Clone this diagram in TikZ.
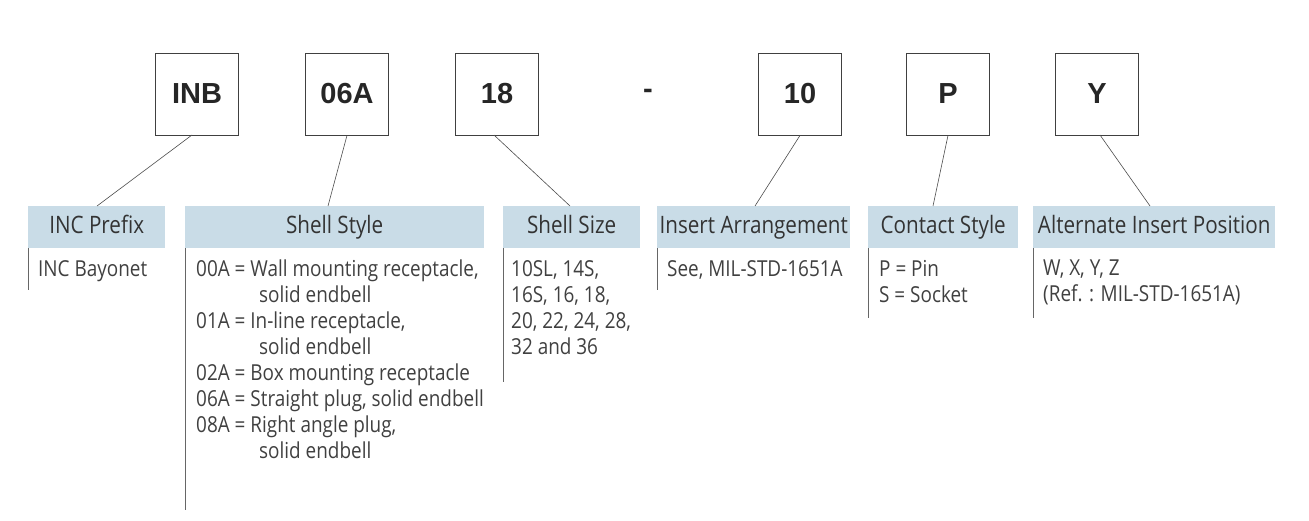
\documentclass[tikz,border=0pt]{standalone}
\usepackage{fontspec}
\setmainfont{Open Sans}[FakeStretch=0.86]
\newfontfamily\boxfont{Liberation Sans}
\begin{document}
\begin{tikzpicture}[x=1pt,y=-1pt,
  codebox/.style={draw=black!75,line width=0.8pt,minimum width=83pt,minimum height=82pt,font=\boxfont\bfseries\fontsize{29}{32}\selectfont,text=black!85},
  hdr/.style={fill=hdrblue,anchor=north west,minimum height=42pt,inner sep=0pt,text height=18pt,text depth=5pt,font=\fontsize{24}{26}\selectfont,text=black!80},
  body/.style={anchor=north west,align=left,inner sep=0pt,font=\fontsize{22}{26}\selectfont,text=black!75},
  conn/.style={draw=black!70,line width=0.6pt},
  vline/.style={draw=black!60,line width=0.6pt}]
\definecolor{hdrblue}{HTML}{C9DCE7}
\useasboundingbox (0,0) rectangle (1309,521);
\node[codebox] (b1) at (197,94) {INB};
\node[codebox] (b2) at (347,94) {06A};
\node[codebox] (b3) at (497,94) {18};
\node[font=\boxfont\bfseries\fontsize{29}{32}\selectfont,text=black!85] (dash) at (648,94) {-};
\node[codebox] (b4) at (800,94) {10};
\node[codebox] (b5) at (948,94) {P};
\node[codebox] (b6) at (1097,94) {Y};
\node[hdr,minimum width=137pt] (h1) at (28,206) {INC Prefix};
\node[hdr,minimum width=299pt] (h2) at (185,206) {Shell Style};
\node[hdr,minimum width=137pt] (h3) at (503,206) {Shell Size};
\node[hdr,minimum width=193pt] (h4) at (657,206) {Insert Arrangement};
\node[hdr,minimum width=150pt] (h5) at (868,206) {Contact Style};
\node[hdr,minimum width=242pt] (h6) at (1033,206) {Alternate Insert Position};
\coordinate (t1) at (97,206); \coordinate (t2) at (328,206);
\coordinate (t3) at (570,206); \coordinate (t4) at (755,206);
\coordinate (t5) at (933,206); \coordinate (t6) at (1150,206);
\draw[conn] (192,135) -- (t1);
\draw[conn] (b2.south) -- (t2);
\draw[conn] (494,135) -- (t3);
\draw[conn] (b4.south) -- (t4);
\draw[conn] (b5.south) -- (t5);
\draw[conn] (1100,135) -- (t6);
\draw[vline] (h1.south west) -- ++(0,42);
\draw[vline] (h2.south west) -- ++(0,262);
\draw[vline] (h3.south west) -- ++(0,134);
\draw[vline] (h4.south west) -- ++(0,42);
\draw[vline] (h5.south west) -- ++(0,70);
\draw[vline] (h6.south west) -- ++(0,70);
\node[body] (c1) at (38,260) {INC Bayonet};
\node[body] (c2) at (196,260) {00A = Wall mounting receptacle,\\\hspace*{63pt}solid endbell\\01A = In-line receptacle,\\\hspace*{63pt}solid endbell\\02A = Box mounting receptacle\\06A = Straight plug, solid endbell\\08A = Right angle plug,\\\hspace*{63pt}solid endbell};
\node[body] (c3) at (511,260) {10SL, 14S,\\16S, 16, 18,\\20, 22, 24, 28,\\32 and 36};
\node[body] (c4) at (667,260) {See, MIL-STD-1651A};
\node[body] (c5) at (879,260) {P = Pin\\S = Socket};
\node[body] (c6) at (1043,260) {W, X, Y, Z\\(Ref. : MIL-STD-1651A)};
\end{tikzpicture}
\end{document}
